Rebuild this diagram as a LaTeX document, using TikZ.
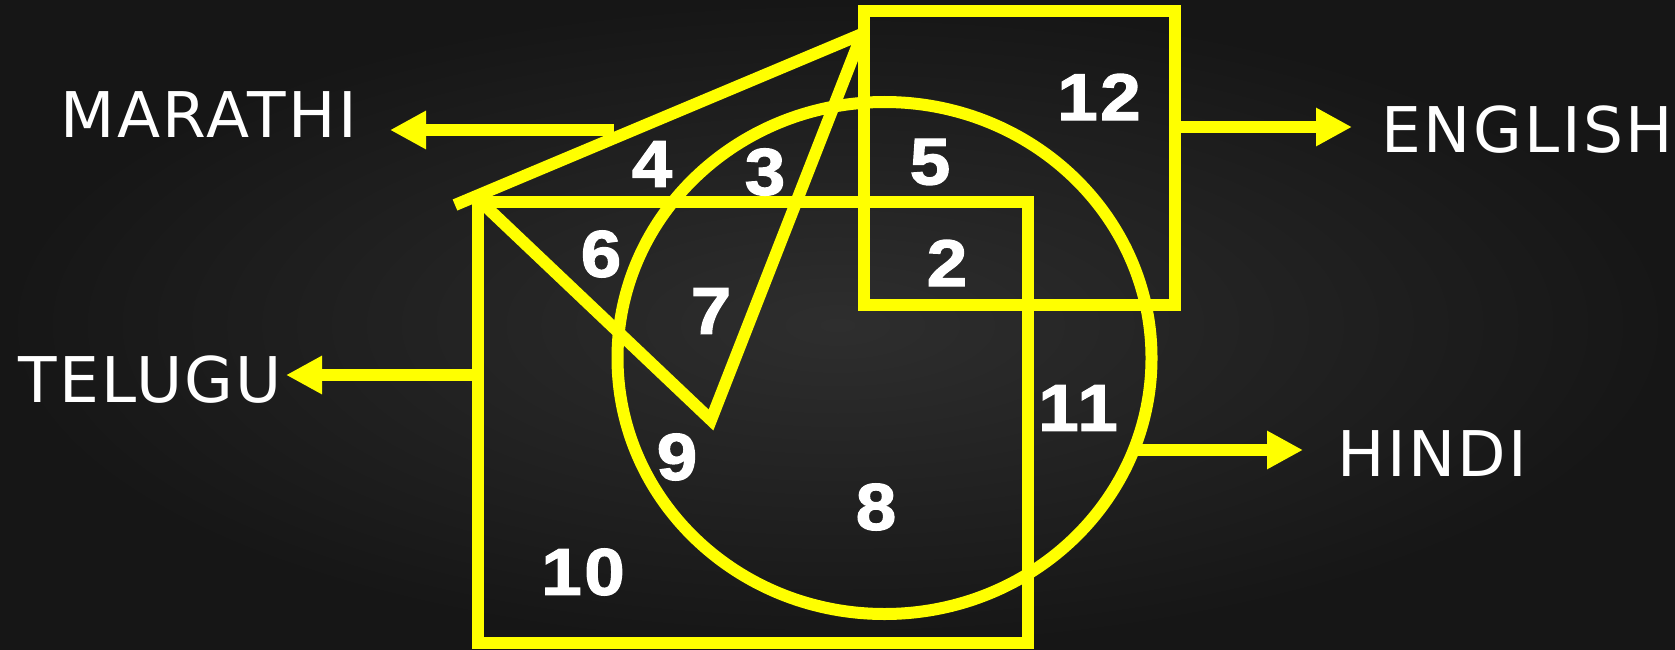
\documentclass[tikz,border=0pt]{standalone}
\usepackage{fontspec}
\setmainfont[LetterSpace=4]{DejaVu Sans}
\newfontfamily\numfont[BoldFeatures={FakeBold=2,FakeStretch=1.1,LetterSpace=4}]{Liberation Sans}
\usetikzlibrary{arrows.meta}
\definecolor{bgin}{RGB}{46,46,46}
\definecolor{bgout}{RGB}{22,22,22}
\definecolor{ylw}{RGB}{255,255,0}
\tikzset{
  shapeline/.style={draw=ylw, line width=12pt, line join=miter},
  pointer/.style={draw=ylw, line width=12pt, -{Triangle[length=36pt,width=36pt]}},
  langlabel/.style={text=white, font=\fontsize{63}{63}\selectfont, inner sep=0pt, anchor=base west},
  region/.style={text=white, font=\numfont\bfseries\fontsize{66}{66}\selectfont, inner sep=0pt}
}
\begin{document}
\begin{tikzpicture}[x=1pt,y=-1pt]
\useasboundingbox (0,0) rectangle (1675,650);
\shade[inner color=bgin, outer color=bgout] (0,0) rectangle (1675,650);
% shapes
\draw[shapeline] (478,202) rectangle (1028,643);
\draw[shapeline] (864,11) rectangle (1175,305);
\draw[shapeline] (884.5,358) ellipse [x radius=267pt, y radius=256pt];
\draw[shapeline] (455,205) -- (862,34);
\draw[shapeline] (862,34) -- (711,420) -- (479,200);
% arrow endpoints
\coordinate (mstart) at (614,130);
\coordinate (mtip) at (390,130);
\coordinate (tstart) at (478,375);
\coordinate (ttip) at (286,375);
\coordinate (estart) at (1175,127);
\coordinate (etip) at (1352,127);
\coordinate (hstart) at (1134,450);
\coordinate (htip) at (1303,450);
\draw[pointer] (mstart) -- (mtip);
\draw[pointer] (tstart) -- (ttip);
\draw[pointer] (estart) -- (etip);
\draw[pointer] (hstart) -- (htip);
% labels
\node[langlabel] (marathi) at (60,137) {MARATHI};
\node[langlabel] (telugu) at (18,402) {TELUGU};
\node[langlabel] (english) at (1381,153) {ENGLISH};
\node[langlabel] (hindi) at (1337,476) {HINDI};
% region numbers
\node[region] (n12) at (1099,97) {12};
\node[region] (n4) at (652,164) {4};
\node[region] (n3) at (765,172) {3};
\node[region] (n5) at (930,162) {5};
\node[region] (n6) at (601,254) {6};
\node[region] (n2) at (947,263) {2};
\node[region] (n7) at (711,311) {7};
\node[region] (n9) at (677,457) {9};
\node[region] (n8) at (876,507) {8};
\node[region] (n10) at (583,572) {10};
\node[region] (n11) at (1078,408) {11};
\end{tikzpicture}
\end{document}
